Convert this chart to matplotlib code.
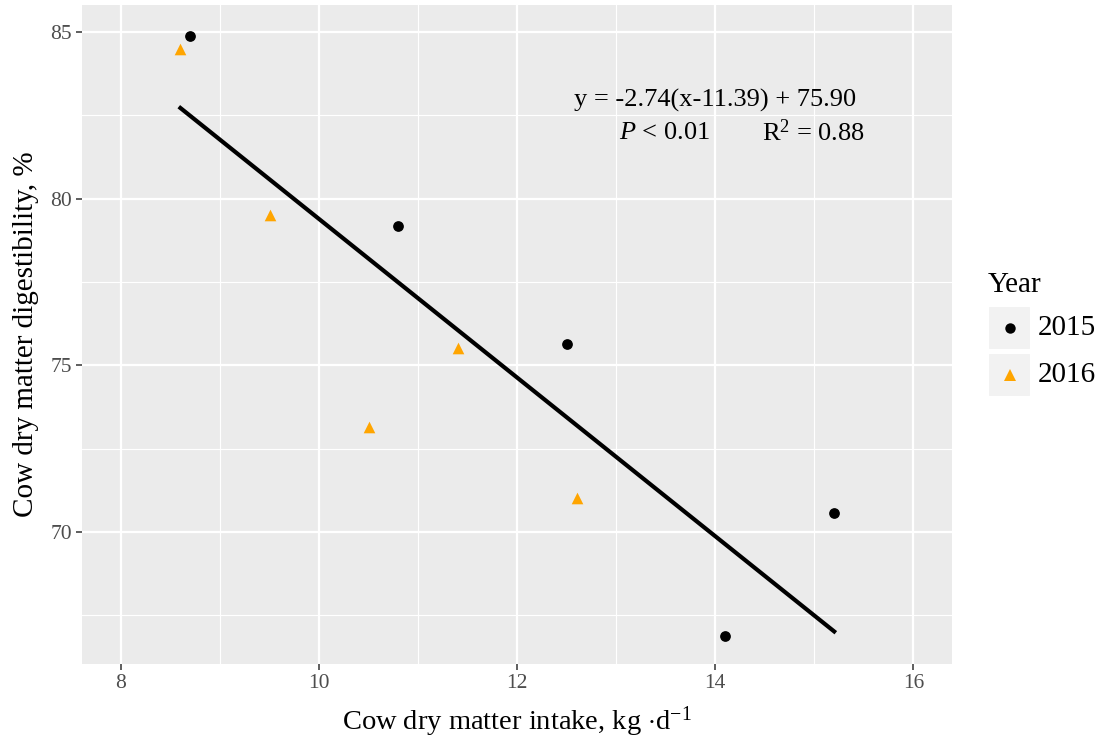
import numpy as np
import matplotlib.pyplot as plt
from matplotlib.lines import Line2D
from matplotlib.patches import Rectangle

# ----------------------------
# Data: intake vs digestibility by year
# ----------------------------
intake_2015 = [8.7, 10.8, 12.5, 15.2, 14.1]
digest_2015 = [84.87, 79.19, 75.63, 70.57, 66.88]
intake_2016 = [8.6, 9.5, 11.4, 10.5, 12.6]
digest_2016 = [84.49, 79.51, 75.51, 73.15, 71.02]

x_ticks = [8, 10, 12, 14, 16]
y_ticks = [70, 75, 80, 85]

eq_text = "y = -2.74(x-11.39) + 75.90"
p_text = r"$\it{P}$ < 0.01"
r2_text = r"R$^2$ = 0.88"

plt.rcParams["font.family"] = ["Liberation Serif", "DejaVu Serif"]
plt.rcParams["mathtext.fontset"] = "custom"
plt.rcParams["mathtext.rm"] = "Liberation Serif"
plt.rcParams["mathtext.it"] = "Liberation Serif:italic"

fig = plt.figure(figsize=(11.06, 7.44), dpi=100)
ax = fig.add_axes([0.0741, 0.1075, 0.7867, 0.8858])
ax.set_facecolor("#EBEBEB")
for s in ax.spines.values():
    s.set_visible(False)

ax.set_xlim(7.606, 16.39)
ax.set_ylim(66.04, 85.81)
ax.set_xticks(x_ticks)
ax.set_yticks(y_ticks)
ax.set_xticks([9, 11, 13, 15], minor=True)
ax.set_yticks([67.5, 72.5, 77.5, 82.5], minor=True)
ax.grid(which="major", color="white", lw=1.6)
ax.grid(which="minor", color="white", lw=0.8)
ax.set_axisbelow(True)
ax.tick_params(which="major", length=4, width=1.1, color="#333333",
               labelcolor="#4D4D4D", labelsize=15.5, pad=3)
ax.tick_params(which="minor", length=0)

# fitted line over all points
all_x = np.array(intake_2015 + intake_2016)
all_y = np.array(digest_2015 + digest_2016)
slope, icpt = np.polyfit(all_x, all_y, 1)
xs = np.array([all_x.min(), all_x.max()])
ax.plot(xs, slope * xs + icpt, color="black", lw=3, zorder=2)

ax.scatter(intake_2015, digest_2015, s=45, marker="o", color="black", zorder=3)
ax.scatter(intake_2016, digest_2016, s=70, marker="^", color="#FFA500",
           linewidths=0, zorder=3)

ax.text(14.0, 82.96, eq_text, fontsize=19, ha="center", va="center")
ax.text(13.485, 81.97, p_text, fontsize=19, ha="center", va="center")
ax.text(14.995, 81.97, r2_text, fontsize=19, ha="center", va="center")

ax.set_xlabel(r"Cow dry matter intake, kg $\cdot$d$^{-1}$", fontsize=20.5)
ax.set_ylabel("Cow dry matter digestibility, %", fontsize=21)
ax.xaxis.set_label_coords(0.5, -0.062)
ax.yaxis.set_label_coords(-0.049, 0.5)

# legend drawn by hand, ggplot style
W, H = 1106, 744
fig.text(988 / W, 1 - 285 / H, "Year", fontsize=21, ha="left", va="center")
keys = [("o", "black", 7.5, "2015", 328), ("^", "#FFA500", 9, "2016", 375)]
for mk, col, ms, lab, yc in keys:
    fig.add_artist(Rectangle((988 / W, 1 - (yc + 22) / H), 43 / W, 44 / H,
                             transform=fig.transFigure, facecolor="#F2F2F2",
                             edgecolor="white", lw=1.5))
    fig.add_artist(Line2D([1010 / W], [1 - yc / H], marker=mk, color=col,
                          markersize=ms, markeredgewidth=0,
                          transform=fig.transFigure))
    fig.text(1038 / W, 1 - yc / H, lab, fontsize=21, ha="left", va="center")

fig.savefig("out.png", dpi=100)
